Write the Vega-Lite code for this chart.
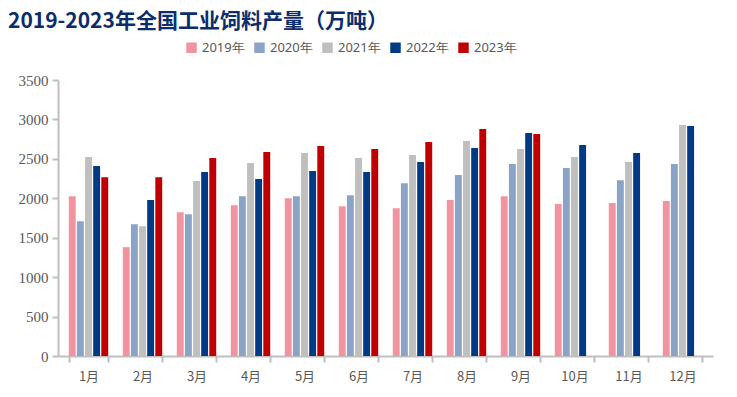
{
  "$schema": "https://vega.github.io/schema/vega-lite/v6.json",
  "width": 655,
  "height": 276,
  "autosize": {"type": "none"},
  "padding": {"left": 58, "top": 80, "right": 24, "bottom": 41},
  "background": "white",
  "title": {
    "text": "2019-2023年全国工业饲料产量（万吨）",
    "anchor": "start",
    "frame": "bounds",
    "orient": "top",
    "font": "Noto Sans CJK SC",
    "fontSize": 21,
    "fontWeight": "bold",
    "color": "#0B2E6B",
    "dx": -10,
    "dy": -5
  },
  "data": {
    "values": [
      {"month": "1月", "year": "2019年", "value": 2027},
      {"month": "1月", "year": "2020年", "value": 1710},
      {"month": "1月", "year": "2021年", "value": 2522},
      {"month": "1月", "year": "2022年", "value": 2408},
      {"month": "1月", "year": "2023年", "value": 2268},
      {"month": "2月", "year": "2019年", "value": 1380},
      {"month": "2月", "year": "2020年", "value": 1672},
      {"month": "2月", "year": "2021年", "value": 1646},
      {"month": "2月", "year": "2022年", "value": 1977},
      {"month": "2月", "year": "2023年", "value": 2268},
      {"month": "3月", "year": "2019年", "value": 1824},
      {"month": "3月", "year": "2020年", "value": 1799},
      {"month": "3月", "year": "2021年", "value": 2218},
      {"month": "3月", "year": "2022年", "value": 2332},
      {"month": "3月", "year": "2023年", "value": 2510},
      {"month": "4月", "year": "2019年", "value": 1913},
      {"month": "4月", "year": "2020年", "value": 2027},
      {"month": "4月", "year": "2021年", "value": 2446},
      {"month": "4月", "year": "2022年", "value": 2243},
      {"month": "4月", "year": "2023年", "value": 2586},
      {"month": "5月", "year": "2019年", "value": 2002},
      {"month": "5月", "year": "2020年", "value": 2027},
      {"month": "5月", "year": "2021年", "value": 2573},
      {"month": "5月", "year": "2022年", "value": 2345},
      {"month": "5月", "year": "2023年", "value": 2662},
      {"month": "6月", "year": "2019年", "value": 1900},
      {"month": "6月", "year": "2020年", "value": 2040},
      {"month": "6月", "year": "2021年", "value": 2510},
      {"month": "6月", "year": "2022年", "value": 2332},
      {"month": "6月", "year": "2023年", "value": 2624},
      {"month": "7月", "year": "2019年", "value": 1875},
      {"month": "7月", "year": "2020年", "value": 2192},
      {"month": "7月", "year": "2021年", "value": 2548},
      {"month": "7月", "year": "2022年", "value": 2459},
      {"month": "7月", "year": "2023年", "value": 2713},
      {"month": "8月", "year": "2019年", "value": 1977},
      {"month": "8月", "year": "2020年", "value": 2294},
      {"month": "8月", "year": "2021年", "value": 2726},
      {"month": "8月", "year": "2022年", "value": 2637},
      {"month": "8月", "year": "2023年", "value": 2878},
      {"month": "9月", "year": "2019年", "value": 2027},
      {"month": "9月", "year": "2020年", "value": 2434},
      {"month": "9月", "year": "2021年", "value": 2624},
      {"month": "9月", "year": "2022年", "value": 2827},
      {"month": "9月", "year": "2023年", "value": 2815},
      {"month": "10月", "year": "2019年", "value": 1926},
      {"month": "10月", "year": "2020年", "value": 2383},
      {"month": "10月", "year": "2021年", "value": 2522},
      {"month": "10月", "year": "2022年", "value": 2675},
      {"month": "11月", "year": "2019年", "value": 1939},
      {"month": "11月", "year": "2020年", "value": 2230},
      {"month": "11月", "year": "2021年", "value": 2459},
      {"month": "11月", "year": "2022年", "value": 2573},
      {"month": "12月", "year": "2019年", "value": 1964},
      {"month": "12月", "year": "2020年", "value": 2434},
      {"month": "12月", "year": "2021年", "value": 2929},
      {"month": "12月", "year": "2022年", "value": 2916}
    ]
  },
  "mark": {"type": "bar"},
  "encoding": {
    "x": {
      "field": "month",
      "type": "nominal",
      "sort": ["1月","2月","3月","4月","5月","6月","7月","8月","9月","10月","11月","12月"],
      "scale": {"paddingInner": 0.27},
      "axis": {
        "title": null,
        "labelAngle": 0,
        "labelFont": "Noto Sans CJK SC",
        "labelFontSize": 13,
        "labelColor": "#595959",
        "labelPadding": 8,
        "domainColor": "#BFBFBF",
        "domainWidth": 2,
        "tickColor": "#BFBFBF",
        "tickWidth": 2,
        "tickSize": 6,
        "tickBand": "extent",
        "grid": false
      }
    },
    "xOffset": {
      "field": "year",
      "type": "nominal",
      "scale": {"paddingInner": 0.15}
    },
    "y": {
      "field": "value",
      "type": "quantitative",
      "scale": {"domain": [0, 3500], "nice": false},
      "axis": {
        "title": null,
        "values": [0,500,1000,1500,2000,2500,3000,3500],
        "format": "d",
        "labelFont": "Times New Roman",
        "labelFontSize": 15,
        "labelColor": "#595959",
        "labelPadding": 4,
        "domainColor": "#BFBFBF",
        "domainWidth": 2,
        "tickColor": "#BFBFBF",
        "tickWidth": 2,
        "tickSize": 6,
        "grid": false
      }
    },
    "color": {
      "field": "year",
      "type": "nominal",
      "scale": {
        "domain": ["2019年","2020年","2021年","2022年","2023年"],
        "range": ["#F2949F","#8BA3C7","#BFBFBF","#003A85","#C00000"]
      },
      "legend": {
        "title": null,
        "orient": "none",
        "direction": "horizontal",
        "legendX": 127,
        "legendY": -39,
        "symbolType": "square",
        "symbolSize": 110,
        "symbolStrokeWidth": 0,
        "symbolOpacity": 1,
        "labelFont": "Noto Sans",
        "labelFontSize": 13,
        "labelColor": "#595959",
        "labelOffset": 4,
        "columnPadding": 8
      }
    }
  },
  "config": {"view": {"stroke": null}}
}
